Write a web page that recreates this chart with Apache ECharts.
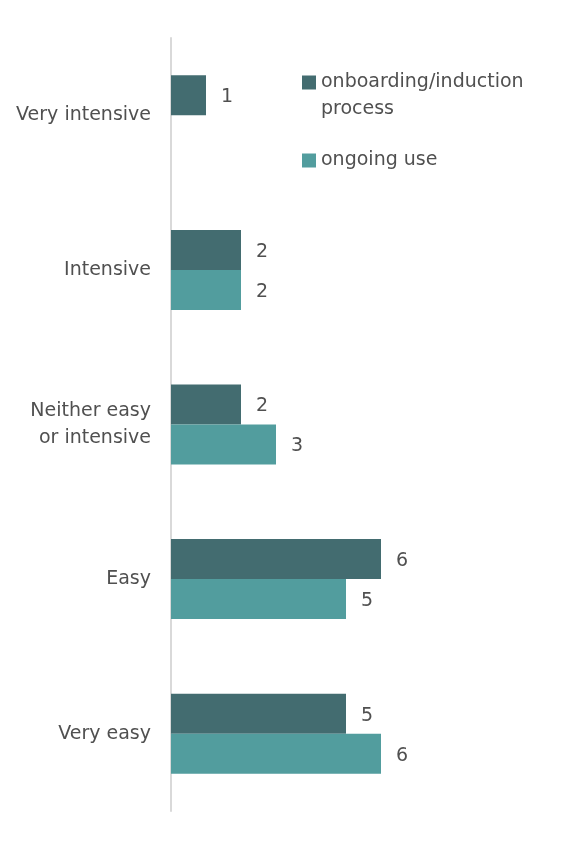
<!DOCTYPE html>
<html>
<head>
<meta charset="utf-8">
<script src="https://cdn.jsdelivr.net/npm/echarts@6/dist/echarts.min.js"></script>
<style>html,body{margin:0;padding:0;background:#fff}#c{width:569px;height:846px}</style>
</head>
<body>
<div id="c"></div>
<script>
var categories = ['Very intensive', 'Intensive', 'Neither easy\nor intensive', 'Easy', 'Very easy'];
var seriesNames = ['onboarding/induction\nprocess', 'ongoing use'];
var onboarding = [1, 2, 2, 6, 5];
var ongoing = [null, 2, 3, 5, 6];

var chart = echarts.init(document.getElementById('c'));
var font = 'DejaVu Sans';
var txt = '#505050';
chart.setOption({
  animation: false,
  backgroundColor: '#fff',
  grid: { left: 171, top: 38, height: 773, width: 385, containLabel: false },
  legend: [
    { data: [seriesNames[0]], left: 297, top: 37, orient: 'vertical', icon: 'rect', itemWidth: 14, itemHeight: 14,
      formatter: function (n) { return '\n' + n; },
      textStyle: { color: txt, fontFamily: font, fontSize: 19, lineHeight: 27 } },
    { data: [seriesNames[1]], left: 297, top: 142, orient: 'vertical', icon: 'rect', itemWidth: 14, itemHeight: 14,
      textStyle: { color: txt, fontFamily: font, fontSize: 19, lineHeight: 27 } }
  ],
  xAxis: { type: 'value', min: 0, max: 11, show: false },
  yAxis: {
    type: 'category', data: categories, inverse: true,
    axisLine: { show: true, lineStyle: { color: '#d9d9d9', width: 2 } },
    axisTick: { show: false },
    axisLabel: { color: txt, fontFamily: font, fontSize: 19, lineHeight: 27, margin: 20 }
  },
  series: [
    { name: seriesNames[0], type: 'bar', data: onboarding, barWidth: 40, barGap: '0%',
      itemStyle: { color: '#436c70' },
      label: { show: true, position: 'right', distance: 15, color: txt, fontFamily: font, fontSize: 19, offset: [0, 2] } },
    { name: seriesNames[1], type: 'bar', data: ongoing, barWidth: 40, barGap: '0%',
      itemStyle: { color: '#529d9e' },
      label: { show: true, position: 'right', distance: 15, color: txt, fontFamily: font, fontSize: 19, offset: [0, 2] } }
  ]
});
</script>
</body>
</html>
